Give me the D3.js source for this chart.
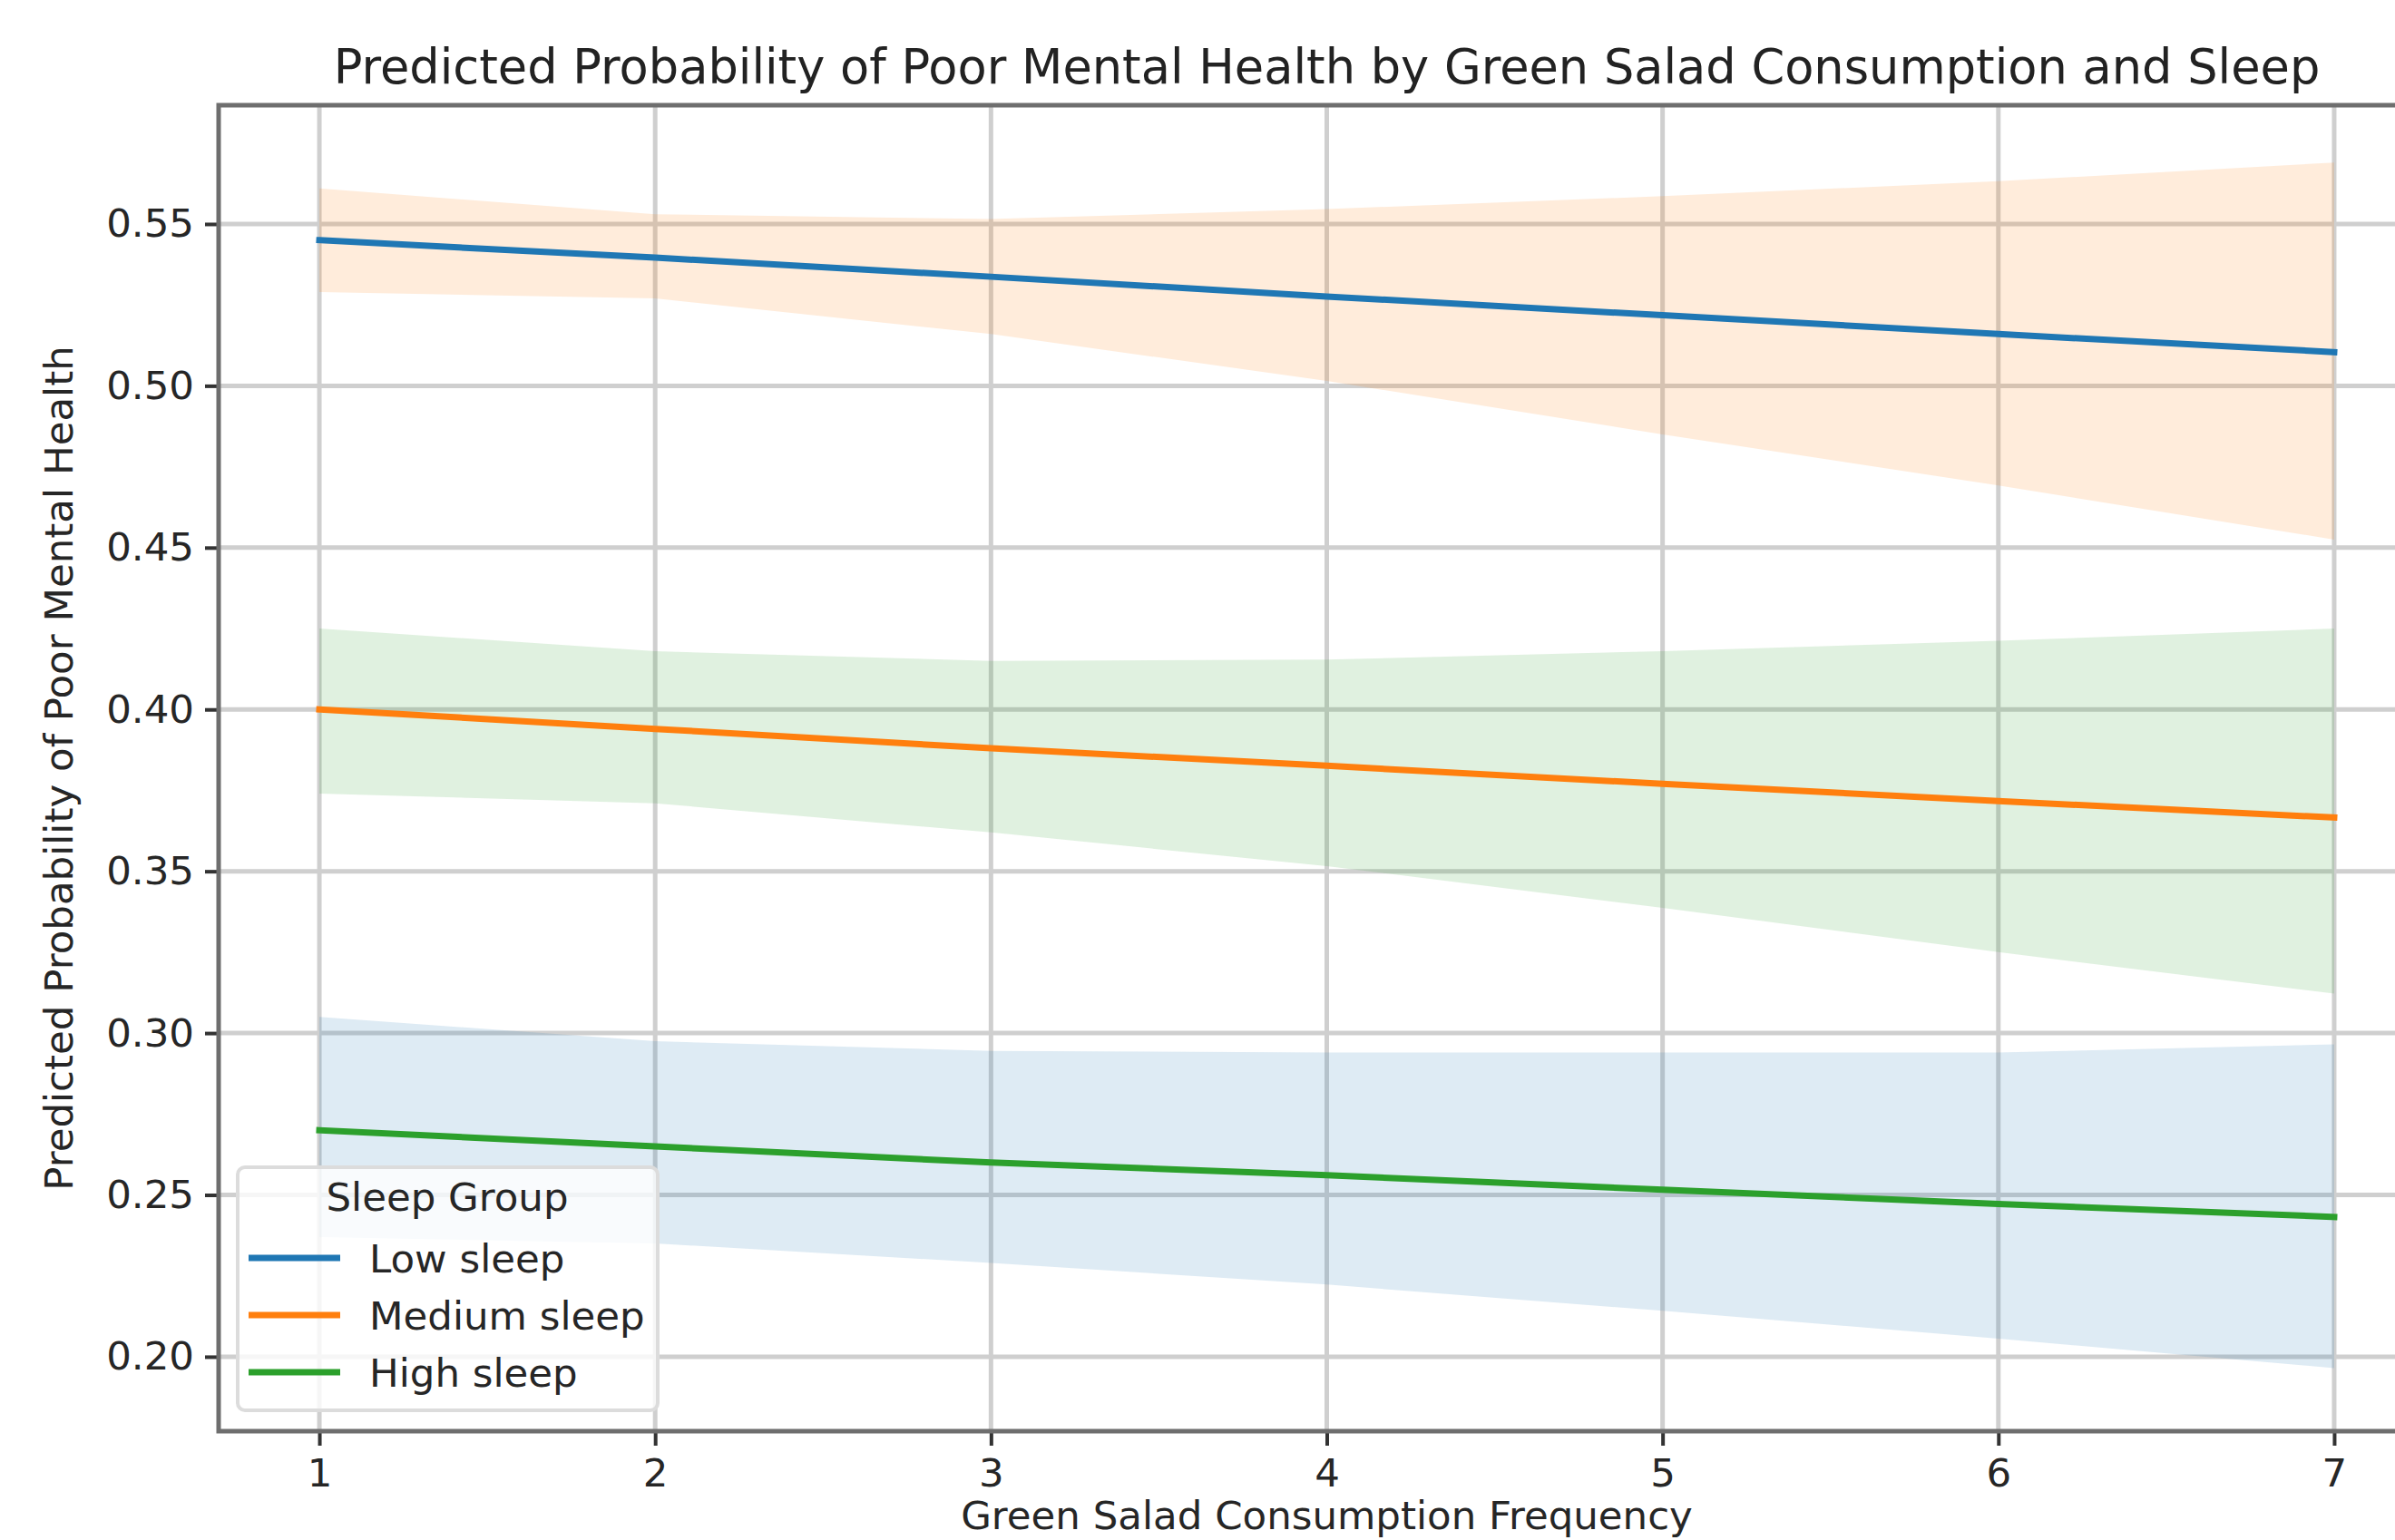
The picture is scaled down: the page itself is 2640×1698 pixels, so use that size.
<!DOCTYPE html>
<html lang="en">
<head>
<meta charset="utf-8">
<title>Predicted Probability of Poor Mental Health</title>
<script src="https://cdn.jsdelivr.net/npm/d3@7"></script>
<style>
  body { margin: 0; background: #ffffff; }
  svg { display: block; font-family: "DejaVu Sans", sans-serif; }
</style>
</head>
<body>
<svg id="chart" width="2640" height="1698"></svg>
<script>
// salad frequency on x
var freq = [1, 2, 3, 4, 5, 6, 7];

// predicted probability per sleep group, with band edges
var lowSleep   = [0.545, 0.5396, 0.5337, 0.5276, 0.5218, 0.516, 0.5104];
var lowLower   = [0.529, 0.527, 0.516, 0.5015, 0.485, 0.4692, 0.4525];
var lowUpper   = [0.561, 0.553, 0.5515, 0.5546, 0.5586, 0.5632, 0.569];

var medSleep   = [0.400, 0.394, 0.388, 0.3826, 0.377, 0.3717, 0.3666];
var medLower   = [0.374, 0.371, 0.362, 0.3516, 0.3387, 0.325, 0.3122];
var medUpper   = [0.425, 0.418, 0.415, 0.4154, 0.418, 0.4212, 0.425];

var highSleep  = [0.270, 0.265, 0.260, 0.2561, 0.2516, 0.2472, 0.2432];
var highLower  = [0.237, 0.235, 0.229, 0.2223, 0.2142, 0.2056, 0.1965];
var highUpper  = [0.305, 0.2975, 0.2945, 0.294, 0.294, 0.294, 0.2965];

var groupNames = ["Low sleep", "Medium sleep", "High sleep"];
var xTicks = [1, 2, 3, 4, 5, 6, 7];
var yTicks = [0.20, 0.25, 0.30, 0.35, 0.40, 0.45, 0.50, 0.55];

// the bands got the "next" colour in the original plot, keep it that way
var groups = [
  {name: groupNames[0], mid: lowSleep,  lo: lowLower,  hi: lowUpper,  line: "#1f77b4", band: "#ff7f0e"},
  {name: groupNames[1], mid: medSleep,  lo: medLower,  hi: medUpper,  line: "#ff7f0e", band: "#2ca02c"},
  {name: groupNames[2], mid: highSleep, lo: highLower, hi: highUpper, line: "#2ca02c", band: "#1f77b4"}
];

var svg = d3.select("#chart");
var L = 241, R = 2684, T = 116, B = 1578;

var x = d3.scaleLinear().domain([0.7, 7.3]).range([L, R]);
var y = d3.scaleLinear().domain([0.177, 0.5867]).range([B, T]);

// grid
svg.append("g").selectAll("line").data(xTicks).enter().append("line")
  .attr("x1", function(d){ return x(d); }).attr("x2", function(d){ return x(d); })
  .attr("y1", T).attr("y2", B)
  .attr("stroke", "#cfcfcf").attr("stroke-width", 5);
svg.append("g").selectAll("line").data(yTicks).enter().append("line")
  .attr("x1", L).attr("x2", R)
  .attr("y1", function(d){ return y(d); }).attr("y2", function(d){ return y(d); })
  .attr("stroke", "#cfcfcf").attr("stroke-width", 5);

// bands
var area = d3.area()
  .x(function(d){ return x(d.x); })
  .y0(function(d){ return y(d.lo); })
  .y1(function(d){ return y(d.hi); });

var line = d3.line()
  .x(function(d){ return x(d.x); })
  .y(function(d){ return y(d.v); });

groups.forEach(function(g){
  var pts = freq.map(function(f, i){ return {x: f, lo: g.lo[i], hi: g.hi[i]}; });
  svg.append("path").attr("d", area(pts))
    .attr("fill", g.band).attr("fill-opacity", 0.15);
});
groups.forEach(function(g){
  var pts = freq.map(function(f, i){ return {x: f, v: g.mid[i]}; });
  svg.append("path").attr("d", line(pts))
    .attr("fill", "none").attr("stroke", g.line)
    .attr("stroke-width", 7).attr("stroke-linecap", "square");
});

// axes
var xAxis = d3.axisBottom(x).tickValues(xTicks).tickFormat(d3.format("d")).tickSize(16).tickPadding(14);
var yAxis = d3.axisLeft(y).tickValues(yTicks).tickFormat(d3.format(".2f")).tickSize(15).tickPadding(12);

var gx = svg.append("g").attr("transform", "translate(0," + B + ")").call(xAxis);
var gy = svg.append("g").attr("transform", "translate(" + L + ",0)").call(yAxis);
[gx, gy].forEach(function(g){
  g.select(".domain").remove();
  g.selectAll(".tick line").attr("stroke", "#333").attr("stroke-width", 4);
  g.selectAll(".tick text").attr("fill", "#262626")
    .style("font-family", "DejaVu Sans").style("font-size", "43.5px");
});

// spines (right one falls outside the picture)
svg.append("rect").attr("x", L).attr("y", T).attr("width", R - L).attr("height", B - T)
  .attr("fill", "none").attr("stroke", "#6e6e6e").attr("stroke-width", 5);

// legend
var lg = svg.append("g");
lg.append("rect").attr("x", 262).attr("y", 1287).attr("width", 463).attr("height", 268)
  .attr("rx", 8).attr("fill", "#ffffff").attr("fill-opacity", 0.8)
  .attr("stroke", "#dcdcdc").attr("stroke-width", 4);
lg.append("text").attr("x", 493).attr("y", 1335).attr("text-anchor", "middle")
  .style("font-size", "43.5px").attr("fill", "#262626").text("Sleep Group");
groups.forEach(function(g, i){
  var ry = 1387 + i * 63;
  lg.append("line").attr("x1", 274).attr("x2", 375).attr("y1", ry).attr("y2", ry)
    .attr("stroke", g.line).attr("stroke-width", 7);
  lg.append("text").attr("x", 407).attr("y", ry + 16)
    .style("font-size", "43.5px").attr("fill", "#262626").text(g.name);
});

// titles
svg.append("text").attr("x", (L + R) / 2).attr("y", 92).attr("text-anchor", "middle")
  .style("font-size", "52.6px").attr("fill", "#222")
  .text("Predicted Probability of Poor Mental Health by Green Salad Consumption and Sleep");
// sits right at the bottom edge, kept just inside it
svg.append("text").attr("x", (L + R) / 2).attr("y", 1686).attr("text-anchor", "middle")
  .style("font-size", "43.5px").attr("fill", "#262626")
  .text("Green Salad Consumption Frequency");
svg.append("text").attr("transform", "translate(80," + ((T + B) / 2) + ") rotate(-90)")
  .attr("text-anchor", "middle").style("font-size", "43.5px").attr("fill", "#262626")
  .text("Predicted Probability of Poor Mental Health");
</script>
</body>
</html>
